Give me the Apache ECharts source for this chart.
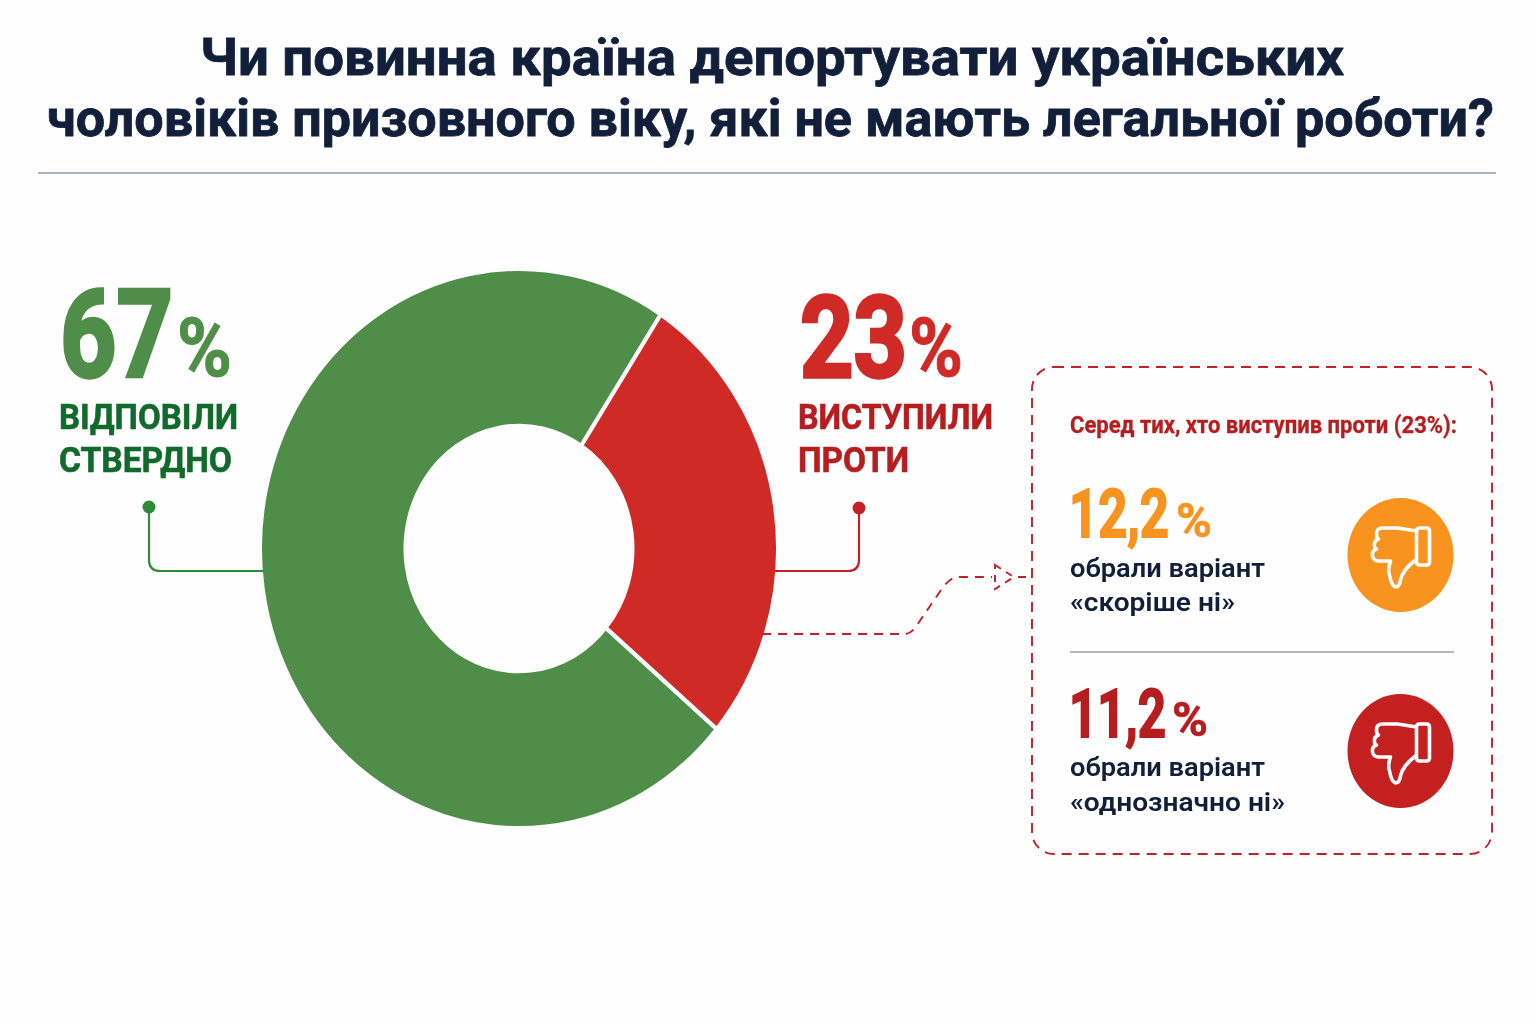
<!DOCTYPE html>
<html lang="uk"><head><meta charset="utf-8">
<script src="https://cdn.jsdelivr.net/npm/echarts@6/dist/echarts.min.js"></script>
<style>
html,body{margin:0;padding:0;width:1536px;height:1024px;background:#fefefe;overflow:hidden}
#pie,#overlay{position:absolute;left:0;top:0;width:1536px;height:1024px}
#pie{transform-origin:519px 548.5px;transform:scaleY(1.08)}
</style></head><body>
<div id="pie"></div><div id="overlay"></div>
<script>
const categories = ['Відповіли ствердно', 'Виступили проти'];
const values = [67, 23];
const subCategories = ['«скоріше ні»', '«однозначно ні»'];
const subValues = [12.2, 11.2];
const titleLines = ['Чи повинна країна депортувати українських', 'чоловіків призовного віку, які не мають легальної роботи?'];

const GREEN='#4f8e48', RED='#d02a26', DKGREEN='#11692b', DKRED='#b71c1f', ORANGE='#f7931e', NAVY='#111f3a', LEAD_G='#2f8a3a', DASH='#c4202a';
const FONT='Roboto';

const pie = echarts.init(document.getElementById('pie'), null, {renderer:'svg'});
pie.setOption({
  animation:false,
  series:[{
    type:'pie', center:[519,548.5], radius:[113.5,259], startAngle:-40.2, minAngle:97,
    label:{show:false}, labelLine:{show:false}, silent:true,
    itemStyle:{borderColor:'#fefefe', borderWidth:4},
    data:categories.map((c,i)=>({name:c,value:values[i],itemStyle:{color:i?RED:GREEN}}))
  }]
});

const meas=document.createElement('canvas').getContext('2d');
function txt(text,x,y,size,weight,color,targetW,bold){
  const font=weight+' '+size+'px '+FONT;
  meas.font=font;
  const w=meas.measureText(text).width;
  const style={text,font,fill:color,align:'left',verticalAlign:'middle'};
  if(bold){style.stroke=color;style.lineWidth=bold;}
  return {type:'text',x,y,scaleX:targetW?targetW/w:1,silent:true,style};
}
const fmt=v=>String(v).replace('.',',');
let shapeId=0;
function pathEl(d,style,x,y){
  const name='p'+(shapeId++);
  echarts.graphic.registerShape(name,echarts.graphic.extendPath(d,{}));
  return {type:name,silent:true,x:x||0,y:y||0,style:Object.assign({fill:'none'},style)};
}
const thumb='M16,-24 L-3,-27 L-18,-27 Q-24,-27 -24,-21 Q-24,-17 -22,-16 Q-27,-14 -26,-9 Q-26,-7 -24,-6 Q-29,-4 -28,1 Q-27,6 -22,6 L-10,6 Q-13,14 -11,20 Q-9,31 -5,32 Q-1,32 0,25 Q2,15 15,5 L16,5 Z M19,-27 L26,-27 Q29,-27 29,-24 L29,7 Q29,10 26,10 L19,10 Q16,10 16,7 L16,-24 Q16,-27 19,-27 Z';
function icon(cy,color){return [
  {type:'ellipse',silent:true,shape:{cx:1400.5,cy,rx:53,ry:57},style:{fill:color}},
  pathEl(thumb,{stroke:'#fff',lineWidth:3.6,lineJoin:'round'},1400.5,cy)
];}
const g=[
  txt(titleLines[0],200,62,52,700,NAVY,1144,0.8),
  txt(titleLines[1],47,123,52,700,NAVY,1447,0.8),
  {type:'line',silent:true,shape:{x1:38,y1:173,x2:1496,y2:173},style:{stroke:'#a9b2c4',lineWidth:2}},

  txt(String(values[0]),60,346,122,700,GREEN,113,3.5),
  txt('%',177,355,82,700,GREEN,55,1),
  txt('ВІДПОВІЛИ',59,420,35,700,DKGREEN,179,0.6),
  txt('СТВЕРДНО',59,463,35,700,DKGREEN,173,0.6),
  {type:'circle',silent:true,shape:{cx:149,cy:507,r:6.5},style:{fill:LEAD_G}},
  pathEl('M149,507 L149,560 Q149,571 160,571 L264,571',{stroke:LEAD_G,lineWidth:2.2}),

  txt(String(values[1]),800,348,114,700,RED,107,3.5),
  txt('%',909,355,82,700,RED,54,1),
  txt('ВИСТУПИЛИ',798,420,35,700,DKRED,195,0.6),
  txt('ПРОТИ',798,463,35,700,DKRED,111,0.6),
  {type:'circle',silent:true,shape:{cx:859,cy:508,r:6.5},style:{fill:DASH}},
  pathEl('M859,508 L859,560 Q859,571 848,571 L775,571',{stroke:DASH,lineWidth:2.2}),

  pathEl('M762,634 L905,634 Q910,634 915,628 L941,590 Q950,577 958,577 L992,577',{stroke:DASH,lineWidth:1.9,lineDash:[9,7]}),
  pathEl('M995,565 L1014,577 L995,589 Z',{stroke:DASH,lineWidth:1.9,lineDash:[7,6]}),
  {type:'line',silent:true,shape:{x1:1018,y1:577,x2:1032,y2:577},style:{stroke:DASH,lineWidth:1.9,lineDash:[8,5]}},
  {type:'rect',silent:true,shape:{x:1032,y:367,width:460,height:487,r:22},style:{fill:'none',stroke:DASH,lineWidth:1.9,lineDash:[10,7]}},

  txt('Серед тих, хто виступив проти ('+values[1]+'%):',1070,427,24,700,DKRED,387,0.3),

  txt(fmt(subValues[0]),1069,520,66,700,ORANGE,100,1.8),
  txt('%',1176,525,48,700,ORANGE,36,0.6),
  txt('обрали варіант',1070,571,25,600,NAVY,195),
  txt(subCategories[0],1070,605,25,600,NAVY,165),
  {type:'line',silent:true,shape:{x1:1070,y1:652,x2:1454,y2:652},style:{stroke:'#b5b8c2',lineWidth:2}},

  txt(fmt(subValues[1]),1069,720,66,700,DKRED,97,1.8),
  txt('%',1172,724,48,700,DKRED,36,0.6),
  txt('обрали варіант',1070,770,25,600,NAVY,195),
  txt(subCategories[1],1070,805,25,600,NAVY,215),
  ...icon(555,ORANGE),
  ...icon(751,'#c3201f')
];
const ov = echarts.init(document.getElementById('overlay'));
ov.setOption({animation:false,backgroundColor:'transparent',graphic:{elements:g}});
</script>
</body></html>
